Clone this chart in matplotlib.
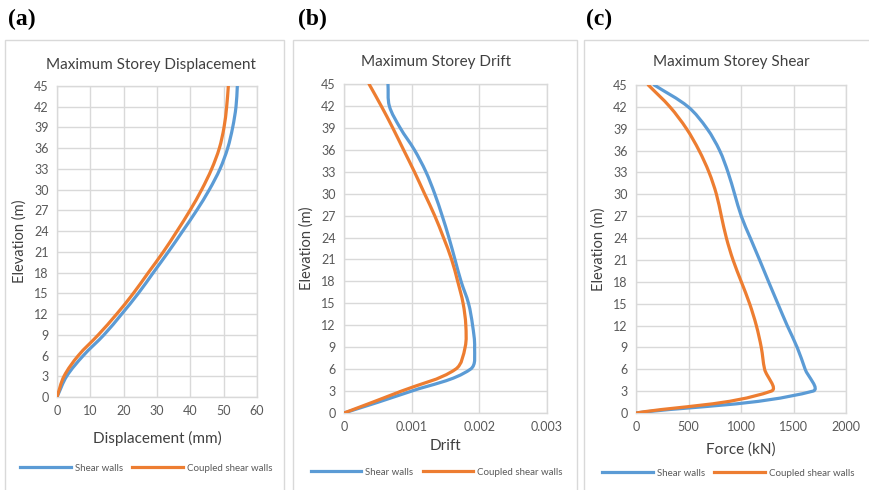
import matplotlib
matplotlib.use("Agg")
import matplotlib.pyplot as plt
import numpy as np
from matplotlib.path import Path
from matplotlib.patches import PathPatch, Rectangle
from matplotlib.lines import Line2D

plt.rcParams["font.family"] = ["Lato", "DejaVu Sans"]

# storey elevations (m)
elevation = [0, 3, 6, 9, 12, 15, 18, 21, 24, 27, 30, 33, 36, 39, 42, 45]

# (a) maximum storey displacement (mm)
disp_shear = [0, 2.9, 7.9, 14.1, 19.4, 24.4, 28.9, 33.4, 37.7, 41.9, 45.7, 48.9, 51.2, 52.7, 53.7, 54.1]
disp_coupled = [0, 2.1, 6.4, 12.4, 17.9, 22.9, 27.4, 31.9, 36.0, 39.9, 43.4, 46.4, 48.7, 50.1, 50.9, 51.4]

# (b) maximum storey drift
drift_shear = [0, 0.00100, 0.00187, 0.00193, 0.00190, 0.00184, 0.00173, 0.00164, 0.00155,
               0.00145, 0.00134, 0.00121, 0.00104, 0.00083, 0.00067, 0.00065]
drift_coupled = [0, 0.00085, 0.00165, 0.00179, 0.00180, 0.00176, 0.00168, 0.00159, 0.00147,
                 0.00134, 0.00119, 0.00104, 0.00088, 0.00072, 0.00055, 0.00037]

# (c) maximum storey shear (kN)
shear_shear = [0, 1685, 1611, 1535, 1440, 1351, 1263, 1177, 1089, 1003, 940, 877, 797, 677, 497, 174]
shear_coupled = [0, 1288, 1225, 1193, 1146, 1082, 1003, 924, 861, 813, 766, 696, 601, 481, 323, 117]

series_names = ["Shear walls", "Coupled shear walls"]
BLUE = "#5B9BD5"
ORANGE = "#ED7D31"
GRID = "#D9D9D9"
TXT = "#595959"
LBL = "#404040"


def smooth_line(ax, x, y, color, sx, sy, k=1 / 3):
    """Excel-like smoothed line: Bezier segments, tangents worked out in pixel space."""
    p = np.column_stack([np.asarray(x, float) * sx, np.asarray(y, float) * sy])
    n = len(p)
    tang = []
    for i in range(n):
        d = p[min(i + 1, n - 1)] - p[max(i - 1, 0)]
        tang.append(d / (np.hypot(*d) or 1.0))
    verts = [p[0]]
    codes = [Path.MOVETO]
    for i in range(n - 1):
        seg = np.hypot(*(p[i + 1] - p[i]))
        verts += [p[i] + tang[i] * seg * k, p[i + 1] - tang[i + 1] * seg * k, p[i + 1]]
        codes += [Path.CURVE4] * 3
    verts = np.array(verts) / [sx, sy]
    ax.add_patch(PathPatch(Path(verts, codes), fill=False, edgecolor=color,
                           lw=2.3, capstyle="round", joinstyle="round", zorder=3))


W, H = 869, 490
fig = plt.figure(figsize=(W / 100, H / 100), dpi=100)

panels = [
    dict(box=(5, 284), axes=(57, 257, 86, 397), title="Maximum Storey Displacement", title_xy=(151, 65),
         xlabel="Displacement (mm)", xlabel_y=438, xlim=(0, 60), xticks=[0, 10, 20, 30, 40, 50, 60],
         xticklabels=None, data=(disp_shear, disp_coupled), legend_y=468, letter="(a)", letter_x=8),
    dict(box=(293, 577), axes=(344, 547, 84, 413), title="Maximum Storey Drift", title_xy=(436, 62),
         xlabel="Drift", xlabel_y=446, xlim=(0, 0.003), xticks=[0, 0.001, 0.002, 0.003],
         xticklabels=["0", "0.001", "0.002", "0.003"], data=(drift_shear, drift_coupled),
         legend_y=472, letter="(b)", letter_x=298),
    dict(box=(584, 880), axes=(636, 846, 85, 413), title="Maximum Storey Shear", title_xy=(731, 62),
         xlabel="Force (kN)", xlabel_y=450, xlim=(0, 2000), xticks=[0, 500, 1000, 1500, 2000],
         xticklabels=None, data=(shear_shear, shear_coupled), legend_y=473, letter="(c)", letter_x=586),
]

for pn in panels:
    bx0, bx1 = pn["box"]
    fig.patches.append(Rectangle((bx0 / W, -0.05), (bx1 - bx0) / W, 1 - 40 / H + 0.05,
                                 transform=fig.transFigure, fill=False, edgecolor=GRID, lw=1.0))
    fig.text(pn["letter_x"] / W, 1 - 19 / H, pn["letter"], fontsize=17, fontweight="bold",
             family="Liberation Serif", va="center", ha="left")

    l, r, t, b = pn["axes"]
    ax = fig.add_axes([l / W, 1 - b / H, (r - l) / W, (b - t) / H])
    ax.set_xlim(*pn["xlim"])
    ax.set_ylim(0, 45)
    ax.set_xticks(pn["xticks"])
    if pn["xticklabels"]:
        ax.set_xticklabels(pn["xticklabels"])
    ax.set_yticks(elevation)
    ax.grid(True, color=GRID, lw=1.0)
    ax.set_axisbelow(True)
    for s in ax.spines.values():
        s.set_color(GRID)
        s.set_linewidth(1.0)
    ax.tick_params(length=0, labelsize=9, labelcolor=TXT, pad=6)
    ax.set_ylabel("Elevation (m)", fontsize=10.5, color=LBL, labelpad=5)

    sx = (r - l) / (pn["xlim"][1] - pn["xlim"][0])
    sy = (b - t) / 45.0
    smooth_line(ax, pn["data"][0], elevation, BLUE, sx, sy)
    smooth_line(ax, pn["data"][1], elevation, ORANGE, sx, sy)

    fig.text(pn["title_xy"][0] / W, 1 - pn["title_xy"][1] / H, pn["title"], fontsize=11,
             color=LBL, ha="center", va="center")
    fig.text((l + r) / 2 / W, 1 - pn["xlabel_y"] / H, pn["xlabel"], fontsize=11,
             color=LBL, ha="center", va="center")

    handles = [Line2D([], [], color=BLUE, lw=2.3), Line2D([], [], color=ORANGE, lw=2.3)]
    fig.legend(handles, series_names, loc="center",
               bbox_to_anchor=((bx0 + min(bx1, 869)) / 2 / W + 0.002, 1 - pn["legend_y"] / H),
               ncol=2, frameon=False, fontsize=7, handlelength=5.2, columnspacing=1.0,
               handletextpad=0.4, labelcolor=TXT)

fig.savefig("out.png", dpi=100)
